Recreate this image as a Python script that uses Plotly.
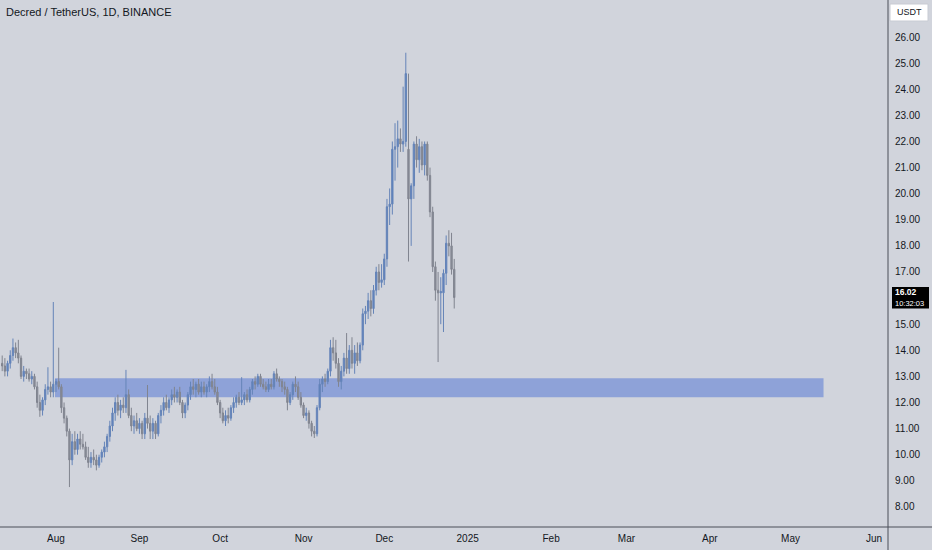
import pandas as pd
import plotly.graph_objects as go

# Daily candles, 2024-07-12 .. 2024-12-27
opens = [
 13.5,13.4,13.2,13.5,13.8,14.1,13.9,13.7,13.0,13.2,13.1,12.9,13.0,12.6,12.0,11.7,12.1,12.5,12.6,12.4,12.7,
 12.8,12.6,11.8,11.4,10.9,9.8,10.5,10.2,10.6,10.4,10.3,9.9,9.7,9.9,9.8,9.6,9.9,10.1,10.3,10.7,11.1,11.6,12.0,11.7,11.9,11.8,12.3,11.5,11.1,11.3,11.0,
 11.2,10.8,11.4,11.2,10.9,11.2,10.8,11.5,11.7,12.0,11.8,12.1,12.3,12.2,12.4,12.0,11.6,11.9,12.3,12.6,12.5,12.7,12.4,12.6,12.4,12.6,12.8,12.6,12.4,12.0,
 11.6,11.3,11.5,11.4,11.8,12.0,12.2,12.0,12.1,12.3,12.1,12.5,12.8,12.7,13.0,12.7,12.6,12.5,12.7,12.6,13.1,12.9,12.8,12.6,12.5,12.0,12.3,12.7,12.6,12.2,11.9,
 11.5,11.6,11.2,10.9,10.8,11.8,12.7,12.9,12.8,13.2,14.1,13.9,13.5,12.8,13.2,13.7,13.3,14.0,13.5,13.9,13.6,14.2,15.4,15.5,15.9,15.6,16.3,17.0,16.6,16.7,
 17.5,19.5,19.6,21.7,21.8,22.1,21.9,22.0,21.7,19.8,20.3,21.9,21.3,21.8,21.1,21.9,20.7,19.3,17.2,16.3,16.2,16.2,16.95,18.1,18.0,17.1,
]
highs = [
 13.8,13.7,13.6,14.0,14.45,14.3,14.4,13.8,13.4,13.3,13.3,13.2,13.1,12.8,12.3,12.2,12.7,13.35,12.8,15.85,12.9,
 14.1,12.7,12.0,11.5,11.0,10.8,10.9,10.8,10.9,10.8,10.5,10.3,10.1,10.2,10.0,10.0,10.2,10.5,10.8,11.3,11.8,12.2,12.3,12.1,12.2,13.25,12.5,11.8,11.5,11.6,11.4,
 11.3,11.6,12.67,11.5,11.4,11.3,11.6,11.9,12.2,12.3,12.2,12.5,12.6,12.5,12.6,12.1,12.0,12.4,12.8,12.9,12.8,12.9,12.8,12.8,12.7,13.0,13.1,12.9,12.6,12.1,
 11.8,11.7,11.8,11.9,12.2,12.3,12.4,12.97,12.4,12.5,12.6,12.9,13.0,13.1,13.1,12.9,12.8,12.9,12.9,13.2,13.3,13.0,12.9,12.8,12.6,12.4,12.8,13.0,12.8,12.4,12.0,
 11.8,11.7,11.3,11.1,11.9,12.9,13.0,13.1,13.3,14.4,14.5,14.4,13.7,13.4,13.9,14.66,14.2,14.5,14.2,14.3,14.3,15.6,15.7,16.2,16.3,16.5,17.2,17.3,17.3,17.7,
 19.8,20.2,22.0,22.7,22.8,22.5,24.1,25.4,24.6,20.4,22.0,22.2,22.1,22.0,22.0,22.0,21.0,19.5,17.4,17.0,16.8,17.1,18.4,18.6,18.5,17.5,
]
lows = [
 13.2,13.0,13.0,13.3,13.6,13.7,13.5,12.9,12.8,12.9,12.8,12.7,12.5,11.8,11.45,11.5,11.9,12.3,12.2,12.2,12.4,
 12.5,11.6,11.2,10.7,8.76,9.6,10.0,10.0,10.2,10.2,9.8,9.5,9.5,9.6,9.4,9.5,9.7,9.9,10.1,10.5,10.9,11.3,11.5,11.4,11.6,11.6,11.4,10.9,10.8,10.9,10.8,
 10.6,10.6,11.0,10.6,10.6,10.6,10.7,11.2,11.5,11.7,11.6,11.9,12.0,12.0,11.9,11.4,11.4,11.7,12.1,12.3,12.2,12.3,12.2,12.3,12.2,12.4,12.5,12.3,11.9,11.4,
 11.2,11.1,11.2,11.3,11.6,11.8,11.9,11.9,11.9,12.0,12.0,12.3,12.5,12.6,12.6,12.5,12.4,12.4,12.5,12.5,12.8,12.6,12.4,12.3,11.7,11.9,12.1,12.4,12.1,11.8,11.4,
 11.3,11.0,10.7,10.64,10.7,11.7,12.4,12.6,12.7,13.0,13.6,13.3,12.6,12.5,13.0,13.1,13.1,13.3,13.1,13.4,13.5,14.0,15.0,15.2,15.3,15.4,16.1,16.3,16.4,16.5,
 17.2,18.8,19.2,20.5,21.0,21.6,21.6,21.8,17.4,18.0,19.8,21.0,20.8,20.9,20.7,20.5,19.1,17.0,15.9,13.55,15.0,14.7,16.5,17.6,16.9,15.6,
]
closes = [
 13.4,13.2,13.5,13.8,14.1,13.9,13.7,13.0,13.2,13.1,12.9,13.0,12.6,12.0,11.7,12.1,12.5,12.6,12.4,12.7,12.8,
 12.6,11.8,11.4,10.9,9.8,10.5,10.2,10.6,10.4,10.3,9.9,9.7,9.9,9.8,9.6,9.9,10.1,10.3,10.7,11.1,11.6,12.0,11.7,11.9,11.8,12.3,11.5,11.1,11.3,11.0,11.2,
 10.8,11.4,11.2,10.9,11.2,10.8,11.5,11.7,12.0,11.8,12.1,12.3,12.2,12.4,12.0,11.6,11.9,12.3,12.6,12.5,12.7,12.4,12.6,12.4,12.6,12.8,12.6,12.4,12.0,11.6,
 11.3,11.5,11.4,11.8,12.0,12.2,12.0,12.1,12.3,12.1,12.5,12.8,12.7,13.0,12.7,12.6,12.5,12.7,12.6,13.1,12.9,12.8,12.6,12.5,12.0,12.3,12.7,12.6,12.2,11.9,11.5,
 11.6,11.2,10.9,10.8,11.8,12.7,12.9,12.8,13.2,14.1,13.9,13.5,12.8,13.2,13.7,13.3,14.0,13.5,13.9,13.6,14.2,15.4,15.5,15.9,15.6,16.3,17.0,16.6,16.7,17.5,
 19.5,19.6,21.7,21.8,22.1,21.9,22.0,24.6,19.8,20.3,21.9,21.3,21.8,21.1,21.9,20.7,19.3,17.2,16.3,16.2,16.25,16.95,18.1,18.0,17.1,16.02,
]
start_date = "2024-07-12"
dates = pd.date_range(start=start_date, periods=len(closes), freq="D")

zone_low, zone_high = 12.2, 12.93
zone_start, zone_end = "2024-07-31 15:00", "2025-05-13 06:00"

# 16.00 is hidden behind the last-price label in the reference
price_ticks = [8, 9, 10, 11, 12, 13, 14, 15, 17, 18, 19, 20, 21, 22, 23, 24, 25, 26]
month_ticks = ["2024-08-01", "2024-09-01", "2024-10-01", "2024-11-01", "2024-12-01", "2025-01-01",
               "2025-02-01", "2025-03-01", "2025-04-01", "2025-05-01", "2025-06-01"]
month_labels = ["Aug", "Sep", "Oct", "Nov", "Dec", "2025", "Feb", "Mar", "Apr", "May", "Jun"]

title_text = "Decred / TetherUS, 1D, BINANCE"
last_price = closes[-1]
countdown = "10:32:03"

BG = "#d1d4dc"
TXT = "#131722"
AXL = "#4a4e59"
FONT = "Liberation Sans, Arial, sans-serif"
PLOT_W = 888.0

fig = go.Figure()
fig.add_trace(go.Candlestick(
    x=dates, open=opens, high=highs, low=lows, close=closes,
    increasing=dict(line=dict(color="#6584b8", width=1), fillcolor="#5b80bf"),
    decreasing=dict(line=dict(color="#80848f", width=1), fillcolor="#8a8e99"),
    whiskerwidth=0, showlegend=False, hoverinfo="skip",
))

fig.add_shape(type="rect", xref="x", yref="y", x0=zone_start, x1=zone_end,
              y0=zone_low, y1=zone_high, fillcolor="#8ea2d8", line=dict(width=0), layer="below")

# axis frame lines extending into the scale areas
fig.add_shape(type="line", xref="paper", yref="paper", x0=0, x1=1.06, y0=0, y1=0,
              line=dict(color=AXL, width=1))
fig.add_shape(type="line", xref="paper", yref="paper", x0=1, x1=1, y0=-0.06, y1=1.0,
              line=dict(color=AXL, width=1))

fig.add_annotation(xref="paper", yref="paper", x=0, y=1, xanchor="left", yanchor="top",
                   xshift=4, yshift=-4, text=title_text, showarrow=False,
                   font=dict(family=FONT, size=11, color=TXT))

# USDT currency box
fig.add_shape(type="rect", xref="paper", yref="paper",
              x0=1 + 2 / PLOT_W, x1=1 + 40 / PLOT_W, y0=1 - 21 / 527, y1=1 - 4 / 527,
              fillcolor="#ffffff", line=dict(color="#c8cbd3", width=1))
fig.add_annotation(xref="paper", yref="paper", x=1 + 7 / PLOT_W, y=1 - 12.5 / 527,
                   xanchor="left", yanchor="middle", text="USDT", showarrow=False,
                   font=dict(family=FONT, size=9, color=TXT))

# last price label
fig.add_shape(type="rect", xref="paper", yref="y",
              x0=1 + 4 / PLOT_W, x1=1 + 41 / PLOT_W, y0=last_price - 0.42, y1=last_price + 0.40,
              fillcolor="#000000", line=dict(width=0))
fig.add_annotation(xref="paper", yref="y", x=1 + 6 / PLOT_W, y=last_price + 0.2,
                   xanchor="left", yanchor="middle", text=f"<b>{last_price:.2f}</b>",
                   showarrow=False, borderpad=0, font=dict(family=FONT, size=8.5, color="#ffffff"))
fig.add_annotation(xref="paper", yref="y", x=1 + 6 / PLOT_W, y=last_price - 0.22,
                   xanchor="left", yanchor="middle", text=countdown,
                   showarrow=False, borderpad=0, font=dict(family=FONT, size=7.5, color="#ffffff"))

fig.update_layout(
    width=932, height=550,
    margin=dict(l=0, r=44, t=0, b=23),
    paper_bgcolor=BG, plot_bgcolor=BG,
    font=dict(family=FONT, size=10, color=TXT),
    xaxis=dict(
        type="date", range=["2024-07-11 04:30", "2025-06-06 05:00"],
        rangeslider=dict(visible=False), showgrid=False, zeroline=False,
        tickvals=month_ticks, ticktext=month_labels, ticks="", showline=False,
        tickfont=dict(size=10, color=TXT), ticklabelstandoff=4,
    ),
    yaxis=dict(
        side="right", range=[7.23, 27.42], showgrid=False, zeroline=False,
        tickvals=price_ticks, tickformat=".2f", ticks="", showline=False,
        tickfont=dict(size=10, color=TXT), ticklabelstandoff=6,
    ),
)

fig.write_html("out.html", config={"displayModeBar": False},
               post_script="document.body.style.margin='0';document.body.style.background='#d1d4dc';")
